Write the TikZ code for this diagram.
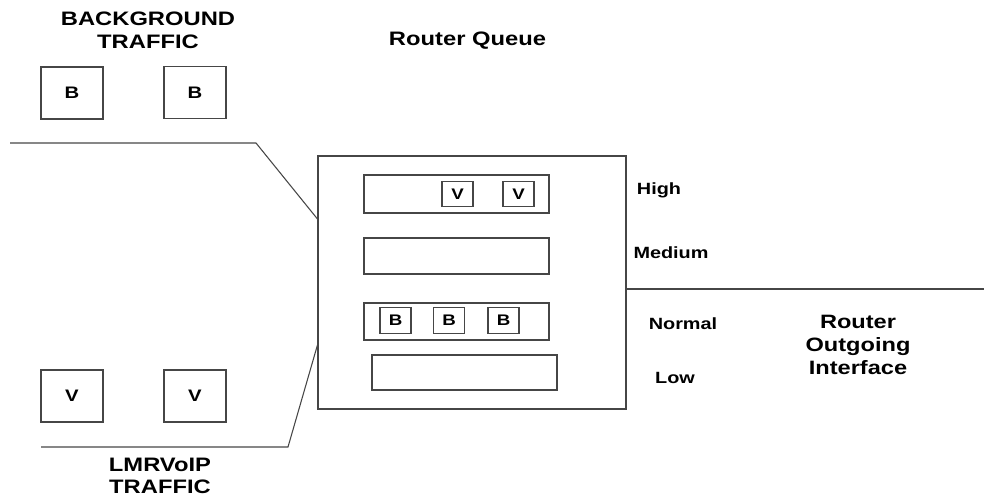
\documentclass[tikz,border=0pt]{standalone}
\usepackage{fontspec}
\usepackage{xcolor}
\usepackage{tikz}
\usetikzlibrary{positioning, calc}
\newfontfamily\lblfont[FakeStretch=1.22]{Liberation Sans}
\definecolor{linegray}{RGB}{70, 70, 70}

\begin{document}
\begin{tikzpicture}[x=0.75pt, y=-0.75pt,
    pkt/.style={draw=linegray, line width=0.8pt, minimum width=62*0.75pt, minimum height=52*0.75pt,
        inner sep=0pt, font=\lblfont\bfseries\fontsize{12.5}{14}\selectfont},
    spkt/.style={pkt, minimum width=31*0.75pt, minimum height=25.5*0.75pt, font=\lblfont\bfseries\fontsize{11.5}{13}\selectfont},
    bar/.style={draw=linegray, line width=0.8pt, minimum width=185*0.75pt, inner sep=0pt},
    title/.style={align=center, font=\lblfont\bfseries\fontsize{14.6}{17}\selectfont},
    prio/.style={font=\lblfont\bfseries\fontsize{12.2}{14}\selectfont},
    wire/.style={draw=linegray, line width=0.8pt}]
    \useasboundingbox (0,0) rectangle (984,498);

    % sources
    \node[title] (bgtxt) at (148,30) {BACKGROUND\\TRAFFIC};
    \node[pkt] (bg1) at (72,93) {B};
    \node[pkt] (bg2) at (195,92.5) {B};
    \node[pkt] (vo1) at (72,396) {V};
    \node[pkt] (vo2) at (195,396) {V};
    \node[title] (votxt) at (160,476) {LMRVoIP\\TRAFFIC};

    % router queue
    \node[title] (qtxt) at (467.5,41) {Router Queue};
    \node[draw=linegray, line width=0.8pt, minimum width=308*0.75pt, minimum height=253*0.75pt, inner sep=0pt]
        (queue) at (472,282.5) {};
    \node[bar, minimum height=38*0.75pt] (high) at (456.5,194) {};
    \node[bar, minimum height=36*0.75pt] (medium) at (456.5,256) {};
    \node[bar, minimum height=37*0.75pt] (normal) at (456.5,321.5) {};
    \node[bar, minimum height=35*0.75pt] (low) at (464.5,372.5) {};

    \node[spkt] (hv1) at (457.5,194) {V};
    \node[spkt] (hv2) at (518.5,194) {V};
    \foreach \i/\x in {1/395.5, 2/449, 3/503.5}
        \node[spkt] (nb\i) at (\x,320.5) {B};

    \node[prio] (lhigh) at (659,190) {High};
    \node[prio] (lmed) at (671,253) {Medium};
    \node[prio] (lnorm) at (683,324) {Normal};
    \node[prio] (llow) at (675,378) {Low};
    \node[title, font=\lblfont\bfseries\fontsize{14.5}{17.25}\selectfont] (outtxt) at (858,345)
        {Router\\Outgoing\\Interface};

    % links
    \coordinate (bgend) at (10,143);
    \coordinate (bgbend) at (256,143);
    \coordinate (bgin) at (queue.west |- 0,219);
    \coordinate (voend) at (41,447);
    \coordinate (vobend) at (288,447);
    \coordinate (voin) at (queue.west |- 0,345);
    \coordinate (outin) at (queue.east |- 0,289);
    \coordinate (outend) at (984,289);
    \draw[wire] (bgend) -- (bgbend) -- (bgin);
    \draw[wire] (voend) -- (vobend) -- (voin);
    \draw[wire] (outin) -- (outend);
\end{tikzpicture}
\end{document}
